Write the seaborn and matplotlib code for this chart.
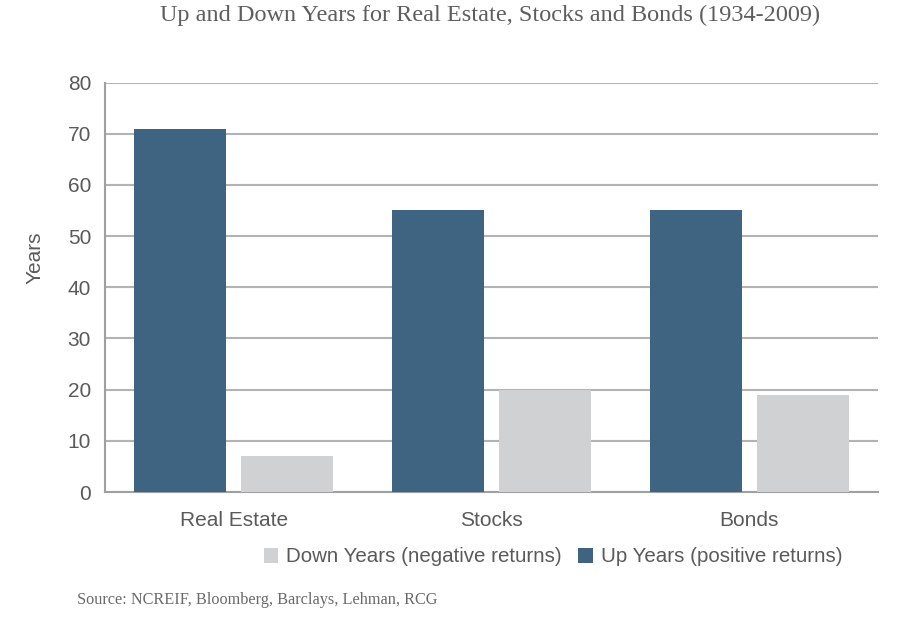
import matplotlib
matplotlib.use("Agg")
import matplotlib.pyplot as plt
import seaborn as sns
import pandas as pd

categories = ["Real Estate", "Stocks", "Bonds"]
up_years = [71, 55, 55]
down_years = [7, 20, 19]
series_names = ["Up Years (positive returns)", "Down Years (negative returns)"]
yticks = [0, 10, 20, 30, 40, 50, 60, 70, 80]

df = pd.DataFrame({
    "Category": categories * 2,
    "Years": up_years + down_years,
    "Series": [series_names[0]] * 3 + [series_names[1]] * 3,
})

sns.set_style("white")
plt.rcParams["font.family"] = ["Liberation Sans", "DejaVu Sans"]

UP = "#3e6482"
DOWN = "#d0d1d3"
GRID = "#b3b3b3"
TXT = "#5a5a5a"

fig = plt.figure(figsize=(9, 6.2), dpi=100)
fig.patch.set_facecolor("white")
ax = fig.add_axes([105 / 900, 1 - 492 / 620, (878 - 105) / 900, (492 - 82.5) / 620])
ax.set_facecolor("white")

sns.barplot(data=df, x="Category", y="Years", hue="Series", order=categories,
            hue_order=series_names, palette=[UP, DOWN], width=0.83, gap=0.138,
            saturation=1, ax=ax, legend=True, zorder=3, linewidth=0)

ax.set_xlim(-0.5, 2.5)
ax.set_ylim(0, 80)
ax.set_yticks(yticks)
ax.grid(axis="y", color=GRID, linewidth=1.5, zorder=0)
ax.set_axisbelow(True)
for s in ["top", "right"]:
    ax.spines[s].set_visible(False)
for s in ["left", "bottom"]:
    ax.spines[s].set_color("#a0a0a0")
    ax.spines[s].set_linewidth(1.5)

ax.tick_params(axis="y", length=0, pad=10, labelsize=15, labelcolor=TXT)
ax.tick_params(axis="x", which="major", length=0, pad=14, labelsize=15, labelcolor=TXT)
ax.set_xticks([0.5, 1.5, 2.5], minor=True)
ax.tick_params(axis="x", which="minor", direction="in", length=7, width=1.5, color="#a0a0a0")
ax.set_xlabel("")
ax.set_ylabel("")

fig.text(35 / 900, 1 - 258 / 620, "Years", rotation=90, ha="center", va="center",
         fontsize=15, color=TXT)

fig.text(490 / 900, 1 - 15 / 620,
         "Up and Down Years for Real Estate, Stocks and Bonds (1934-2009)",
         ha="center", va="center", fontsize=17.5, color="#5e5e5e",
         family=["Liberation Serif", "DejaVu Serif"])

fig.text(77 / 900, 1 - 600 / 620, "Source: NCREIF, Bloomberg, Barclays, Lehman, RCG",
         ha="left", va="center", fontsize=11.7, color="#6a6a6a",
         family=["Liberation Serif", "DejaVu Serif"])

handles, labels = ax.get_legend_handles_labels()
ax.get_legend().remove()
order = [1, 0]
fig.legend([handles[i] for i in order], [labels[i] for i in order],
           loc="center", bbox_to_anchor=(553 / 900, 1 - 557 / 620), ncol=2,
           frameon=False, fontsize=14.8, labelcolor=TXT, handlelength=0.7,
           handleheight=0.7, handletextpad=0.4, columnspacing=0.8)

fig.savefig("out.png", dpi=100, facecolor="white")
